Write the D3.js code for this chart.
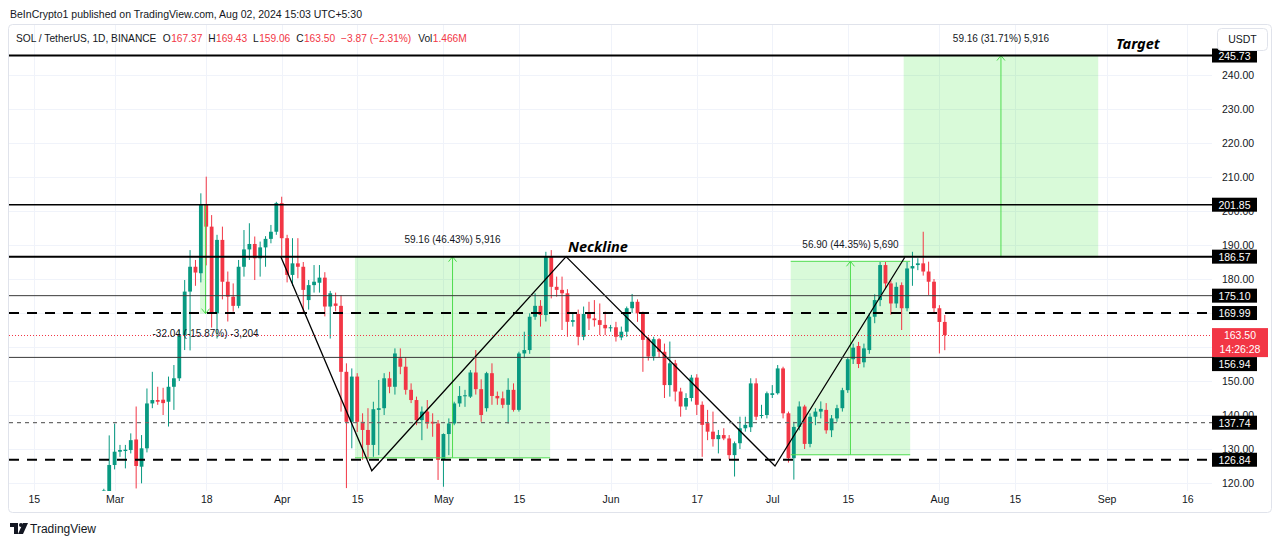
<!DOCTYPE html>
<html><head><meta charset="utf-8">
<script src="https://cdn.jsdelivr.net/npm/d3@7"></script>
<style>body{margin:0;background:#fff;} svg{display:block;font-family:"Liberation Sans",sans-serif;}</style>
</head><body><svg id="c" width="1280" height="544"></svg>
<script>
// ---------- DATA ----------
const dates = ["2024-02-28","2024-02-29",
"2024-03-01","2024-03-02","2024-03-03","2024-03-04","2024-03-05","2024-03-06","2024-03-07","2024-03-08","2024-03-09","2024-03-10",
"2024-03-11","2024-03-12","2024-03-13","2024-03-14","2024-03-15","2024-03-16","2024-03-17","2024-03-18","2024-03-19","2024-03-20",
"2024-03-21","2024-03-22","2024-03-23","2024-03-24","2024-03-25","2024-03-26","2024-03-27","2024-03-28","2024-03-29","2024-03-30","2024-03-31",
"2024-04-01","2024-04-02","2024-04-03","2024-04-04","2024-04-05","2024-04-06","2024-04-07","2024-04-08","2024-04-09","2024-04-10",
"2024-04-11","2024-04-12","2024-04-13","2024-04-14","2024-04-15","2024-04-16","2024-04-17","2024-04-18","2024-04-19","2024-04-20",
"2024-04-21","2024-04-22","2024-04-23","2024-04-24","2024-04-25","2024-04-26","2024-04-27","2024-04-28","2024-04-29","2024-04-30",
"2024-05-01","2024-05-02","2024-05-03","2024-05-04","2024-05-05","2024-05-06","2024-05-07","2024-05-08","2024-05-09","2024-05-10",
"2024-05-11","2024-05-12","2024-05-13","2024-05-14","2024-05-15","2024-05-16","2024-05-17","2024-05-18","2024-05-19","2024-05-20",
"2024-05-21","2024-05-22","2024-05-23","2024-05-24","2024-05-25","2024-05-26","2024-05-27","2024-05-28","2024-05-29","2024-05-30","2024-05-31",
"2024-06-01","2024-06-02","2024-06-03","2024-06-04","2024-06-05","2024-06-06","2024-06-07","2024-06-08","2024-06-09","2024-06-10",
"2024-06-11","2024-06-12","2024-06-13","2024-06-14","2024-06-15","2024-06-16","2024-06-17","2024-06-18","2024-06-19","2024-06-20",
"2024-06-21","2024-06-22","2024-06-23","2024-06-24","2024-06-25","2024-06-26","2024-06-27","2024-06-28","2024-06-29","2024-06-30",
"2024-07-01","2024-07-02","2024-07-03","2024-07-04","2024-07-05","2024-07-06","2024-07-07","2024-07-08","2024-07-09","2024-07-10",
"2024-07-11","2024-07-12","2024-07-13","2024-07-14","2024-07-15","2024-07-16","2024-07-17","2024-07-18","2024-07-19","2024-07-20",
"2024-07-21","2024-07-22","2024-07-23","2024-07-24","2024-07-25","2024-07-26","2024-07-27","2024-07-28","2024-07-29","2024-07-30","2024-07-31",
"2024-08-01","2024-08-02"];

const open = [106,114,
125.3,129.2,129.4,129.7,132.8,124.8,130.2,143.4,144.4,144.5,
143.9,148.3,150.8,163.5,176.3,183.6,181.7,201.8,195.4,169.9,
191.5,179.2,174.8,172.1,183.6,188.7,190.3,186.1,189.3,191.8,193.9,
202.3,192,181.2,184.6,183.6,173.8,178.2,178.9,180.4,171.9,
172.8,172.1,152.7,138,151.3,138,135.6,131.2,141.5,142,
150.8,148.3,156.7,154.2,147.4,144.4,138.5,141,138,137.5,
126.8,134.4,137.5,143.4,145.6,145.4,152.5,147.6,142,152.3,
145.6,144.9,143,147.4,141.5,158.1,159.1,168.9,172.1,169.4,
186.6,177.7,176.8,175.8,167.4,169.7,163,169.7,168.4,167.9,166.5,
165.5,165.8,162.8,164.5,171.4,173.3,169.9,162.5,157.2,162.3,
158.6,148.8,155.2,146.9,142.5,145,151,143,137.6,135.1,
132.9,134.1,133.1,128.2,131.7,136.1,136.4,149.3,139.7,140,
145.9,146.4,153.7,140.5,127.3,136.5,142.5,131.5,139.5,141,
141.5,135.5,139,142,147.3,156.4,160.3,155.5,159.1,168.9,
173.8,184.1,178.7,172.8,178.2,171.4,183.1,184.1,184.6,182.2,179.2,
171.4,167.37];

const high = [118.3,134,
137.5,131.2,131.2,134.6,142.5,134.1,147.8,152.7,148.3,148,
151.3,154.7,165,179.7,188.5,185.6,205.2,210.1,198.8,193,
195.4,182.2,178.7,185.6,194.4,196.4,192.5,191,192.6,195.9,202.7,
204.2,193,192,192,185,179.7,184.1,184.1,182,176.5,
176,175.3,155.2,153.7,152.3,140.5,142,143.9,150.3,152.3,
152.7,159.6,159.6,157,149.3,145.4,142.5,144.4,140.5,138.5,
134.6,139,143.9,148.5,147.4,153.2,159.1,150.5,152.7,155.2,
146.9,146.9,150.8,149.3,158.6,164.5,169.9,175.8,173.8,188,
188.5,180.7,180.7,177,170,171,171.9,173.3,173.8,172.8,170.4,
166.5,167.4,166,171.9,175.6,174,170.4,163,163,162.6,
161,161.6,156.2,148,146.4,151.8,152,144,141.5,141,
135.6,136.1,134.1,132.2,139.5,139.5,150.8,150.8,143,146.9,
148.8,154.7,154.2,141,138,144,143,140.5,142,144,
143.5,140,143,148,157,161,161.5,161,170,175.5,
185,185,179.5,179,179,185,188,186.1,193.9,185.1,180,
172.3,169.43];

const low = [104,112,
124,127.7,124.3,128.7,118.4,119.9,129,142,143,140,
136.6,141.5,150,159.1,159,178,179,184,165.7,162.5,
174,167.5,170.4,171.4,180.7,185.6,179.7,180.7,183.6,190.5,193,
186.6,179,178,180.2,170,171,176,176,169,162.5,
170.5,141,118.5,130.2,135,126.8,127,127.7,128.2,140,
146.4,146,152,146,143.5,137,132.6,136,133.6,120.9,
118.9,128.2,137,142.4,142.4,145,146,138,141,143,
143,142,137.5,141,141,156.7,158,168,166,167.5,
174.3,174.8,165,163,166,160.5,162,165,166,163.5,163.5,
164.5,161.6,162,163,170,167.4,152.7,156,156,157,
145,145.4,144,139.5,141.5,144,140,127.7,132.6,130.7,
128.7,132.6,127,121.9,130,135.1,135,138.5,139,139,
145,146,139,126,121,135.5,130,130.5,137,139,
134.5,133.5,138,141,146.5,155,153.8,154,158,167,
172,177,169.5,171.5,165,170.5,178,182.6,181,175.3,170,
158.1,159.06];

const close = [117.8,125.3,
129.2,129.7,129.8,132.6,125,130.2,143.4,144.4,143.9,143.5,
148.3,150.8,163.5,176.3,183.6,181.9,201.8,195.4,169.9,191.5,
179.2,174.8,172.1,183.6,188.7,190.3,186.1,189.3,191.8,193.9,202.3,
192,181.2,184.6,183.6,176.8,178.2,179.2,180.4,171.9,175.8,
172.1,152.7,138,151.3,138,135.6,131.2,141.7,142,150.8,
148.3,158.1,154.2,147.4,144.4,138.5,141,137.5,137.5,126.8,
134.4,137.5,143.4,145.6,145.8,152.5,147.6,140,152.3,145.6,
144.9,143,147.4,141.5,158.1,159.1,168.9,172.1,169.4,186.6,
177.7,176.8,175.8,167.4,167.9,163,169.7,168.4,167.9,166.5,165.5,
165.8,163,164.5,171.4,173.3,169.9,162.1,157.2,162.3,158.6,
148.8,155.2,146.9,142.5,145,151,143,137.1,135.1,132.9,
134.1,133.1,128.2,131.7,136.1,137.1,149.3,139.5,140,146.4,
146.4,153.7,140.5,127.3,136.5,142.5,131.5,139.5,141,141.8,
135.5,139,142,147.3,156.4,159.8,155,159.6,168.9,173.8,
184.1,178.7,172.8,177.7,171.4,183.1,183.8,184.6,182.2,179.2,171.4,
167.37,163.5];

const priceTicks = [120,130,140,150,180,190,200,210,220,230,240];
const timeTickDates = ["2024-02-15","2024-03-01","2024-03-18","2024-04-01","2024-04-15","2024-05-01","2024-05-15","2024-06-01","2024-06-17","2024-07-01","2024-07-15","2024-08-01","2024-08-15","2024-09-01","2024-09-16"];
const timeTickLabels = ["15","Mar","18","Apr","15","May","15","Jun","17","Jul","15","Aug","15","Sep","16"];
const gridPrices = [120,130,140,150,160,170,180,190,200,210,220,230,240];

const levelPrices = [245.73, 201.85, 186.57, 175.10, 169.99, 156.94, 137.74, 126.84];
const levelKinds  = ["thick","mid","thick","thin","dash","thin","dot","dash"];
const lastPrice = 163.50;
const lastTimer = "14:26:28";

// price-range measurement boxes
const rangeStart = ["2024-04-14T14:00","2024-07-04T10:00","2024-07-25T09:00","2024-03-16T20:00"];
const rangeEnd   = ["2024-05-20T19:00","2024-07-26T14:00","2024-08-30T11:00","2024-03-17T21:00"];
const rangeFrom  = [127.41, 128.30, 186.57, 201.85];
const rangeTo    = [186.57, 185.20, 245.73, 169.81];
const rangeLabel = ["59.16 (46.43%) 5,916","56.90 (44.35%) 5,690","59.16 (31.71%) 5,916","-32.04 (-15.87%) -3,204"];

// zig-zag pattern line
const zigDates  = ["2024-03-31T20:00","2024-04-17T17:00","2024-05-23T18:00","2024-07-01T12:00","2024-07-25T14:00"];
const zigPrices = [186.57, 123.6, 186.57, 125.0, 186.4];

// ---------- SETUP ----------
const svg = d3.select("#c");
const parse = s => new Date(s.length > 10 ? s + ":00Z" : s + "T00:00:00Z");
const x = d3.scaleUtc().domain([parse("2024-03-01"), parse("2024-08-01")]).range([114.6, 939.4]);
const y = d3.scaleLinear().domain([120, 240]).range([483, 75]);
const P = {l: 9, r: 1212, t: 25, b: 491};
const UP = "#089981", DN = "#f23645", INK = "#131722";
const FONT = "Liberation Sans, sans-serif";

svg.append("rect").attr("width",1280).attr("height",544).attr("fill","#fff");
svg.append("defs").append("clipPath").attr("id","clip")
  .append("rect").attr("x",P.l).attr("y",P.t).attr("width",P.r-P.l).attr("height",P.b-P.t);

svg.append("rect").attr("x",8.5).attr("y",24.5).attr("width",1263).attr("height",488).attr("rx",4)
  .attr("fill","none").attr("stroke","#e0e3eb");

const plot = svg.append("g").attr("clip-path","url(#clip)");

plot.selectAll(".vg").data(timeTickDates).join("line")
  .attr("x1",d=>Math.round(x(parse(d)))+0.5).attr("x2",d=>Math.round(x(parse(d)))+0.5)
  .attr("y1",P.t).attr("y2",P.b).attr("stroke","#f0f3fa");
plot.selectAll(".hg").data(gridPrices).join("line")
  .attr("x1",P.l).attr("x2",P.r).attr("y1",d=>Math.round(y(d))+0.5).attr("y2",d=>Math.round(y(d))+0.5)
  .attr("stroke","#f0f3fa");

rangeStart.forEach((s,i)=>{
  const x0 = x(parse(s)), x1 = x(parse(rangeEnd[i]));
  const ya = y(rangeFrom[i]), yb = y(rangeTo[i]);
  plot.append("rect").attr("x",x0).attr("width",x1-x0)
    .attr("y",Math.min(ya,yb)).attr("height",Math.abs(ya-yb))
    .attr("fill","rgba(0,220,0,0.15)");
});

const bars = dates.map((d,i)=>({t:parse(d),o:open[i],h:high[i],l:low[i],c:close[i]}));
const cg = plot.append("g");
bars.forEach(b=>{
  const cx = x(b.t), col = b.c >= b.o ? UP : DN;
  cg.append("line").attr("x1",cx).attr("x2",cx).attr("y1",y(b.h)).attr("y2",y(b.l))
    .attr("stroke",col).attr("stroke-width",1);
  const top = y(Math.max(b.o,b.c)), bot = y(Math.min(b.o,b.c));
  cg.append("rect").attr("x",cx-1.9).attr("width",3.8).attr("y",top).attr("height",Math.max(1,bot-top))
    .attr("fill",col);
});

rangeStart.forEach((s,i)=>{
  const x0 = x(parse(s)), x1 = x(parse(rangeEnd[i])), xm = (x0+x1)/2;
  const ya = y(rangeFrom[i]), yb = y(rangeTo[i]);
  const g = plot.append("g").attr("stroke","#4fdc4f").attr("fill","none").attr("stroke-width",1);
  if (i !== 3) {
    g.append("line").attr("x1",x0).attr("x2",x1).attr("y1",ya).attr("y2",ya);
    g.append("line").attr("x1",x0).attr("x2",x1).attr("y1",yb).attr("y2",yb);
  }
  const ax = i===3 ? x1 : xm;
  g.append("line").attr("x1",ax).attr("x2",ax).attr("y1",ya).attr("y2",yb);
  const dir = yb < ya ? 1 : -1;
  g.append("path").attr("d",`M${ax-4},${yb+dir*5}L${ax},${yb}L${ax+4},${yb+dir*5}`);
});

const styleOf = {
  thick:{w:2,c:"#000",da:null},
  mid:{w:1.6,c:"#000",da:null},
  thin:{w:1,c:"#3a3a3a",da:null},
  dash:{w:2,c:"#000",da:"10,8"},
  dot:{w:1.3,c:"#6b6b6b",da:"4,4"}
};
levelPrices.forEach((p,i)=>{
  const st = styleOf[levelKinds[i]];
  svg.append("line").attr("x1",P.l).attr("x2",1214).attr("y1",y(p)).attr("y2",y(p))
    .attr("stroke",st.c).attr("stroke-width",st.w).attr("stroke-dasharray",st.da);
});
svg.append("line").attr("x1",P.l).attr("x2",1214).attr("y1",Math.round(y(lastPrice))+0.5).attr("y2",Math.round(y(lastPrice))+0.5)
  .attr("stroke",DN).attr("stroke-width",1).attr("stroke-dasharray","1,2");

const zig = d3.line().x(d=>x(parse(d[0]))).y(d=>y(d[1]));
plot.append("path").attr("d",zig(zigDates.map((d,i)=>[d,zigPrices[i]])))
  .attr("fill","none").attr("stroke","#000").attr("stroke-width",1.3);

rangeStart.forEach((s,i)=>{
  const x0 = x(parse(s)), x1 = x(parse(rangeEnd[i])), xm = i===3 ? x1 : (x0+x1)/2;
  const ya = y(rangeFrom[i]), yb = y(rangeTo[i]);
  const ly = i===3 ? Math.max(ya,yb)+20 : Math.min(ya,yb)-17;
  svg.append("text").attr("x",xm).attr("y",ly).attr("dy","0.35em").attr("text-anchor","middle")
    .attr("font-size",10).attr("fill",INK).text(rangeLabel[i]);
});

svg.append("text").attr("x",568).attr("y",252).attr("font-size",14.5).attr("font-weight","bold")
  .attr("font-style","italic").attr("font-family","Noto Sans, sans-serif").attr("fill","#000").text("Neckline");
svg.append("text").attr("x",1116).attr("y",49).attr("font-size",14.5).attr("font-weight","bold")
  .attr("font-style","italic").attr("font-family","Noto Sans, sans-serif").attr("fill","#000").text("Target");

// price axis
const yAxis = d3.axisRight(y).tickValues(priceTicks).tickSize(0).tickPadding(7).tickFormat(d3.format(".2f"));
const yag = svg.append("g").attr("transform","translate(1215,0)").call(yAxis);
yag.select(".domain").remove();
yag.selectAll("text").attr("font-size",10.5).attr("fill",INK).attr("font-family",FONT);

// time axis
const xAxis = d3.axisBottom(x).tickValues(timeTickDates.map(parse)).tickSize(0).tickPadding(5)
  .tickFormat((d,i)=>timeTickLabels[i]);
const xag = svg.append("g").attr("transform",`translate(0,${P.b})`).call(xAxis);
xag.select(".domain").remove();
xag.selectAll("text").attr("font-size",10.5).attr("fill",INK).attr("font-family",FONT);

// last price box
{
  const cy = y(lastPrice);
  svg.append("rect").attr("x",1212).attr("y",cy-7).attr("width",56).attr("height",29).attr("fill",DN);
  svg.append("text").attr("x",1240).attr("y",cy+0.5).attr("dy","0.36em").attr("text-anchor","middle")
    .attr("font-size",10.5).attr("fill","#fff").text(d3.format(".2f")(lastPrice));
  svg.append("text").attr("x",1240).attr("y",cy+14.5).attr("dy","0.36em").attr("text-anchor","middle")
    .attr("font-size",10.5).attr("fill","#fff").text(lastTimer);
}
// level boxes on price axis (156.94 pushed below the live-price box as in the original)
levelPrices.forEach(p=>{
  let cy = y(p);
  if (p === 156.94) cy = y(lastPrice) + 29;
  svg.append("rect").attr("x",1212).attr("y",cy-7).attr("width",45).attr("height",14).attr("fill","#000");
  svg.append("text").attr("x",1234.5).attr("y",cy+0.5).attr("dy","0.36em").attr("text-anchor","middle")
    .attr("font-size",10.5).attr("fill","#fff").text(d3.format(".2f")(p));
});
// USDT box
svg.append("rect").attr("x",1217.5).attr("y",28.5).attr("width",50).attr("height",22).attr("rx",4)
  .attr("fill","#fff").attr("stroke","#e0e3eb");
svg.append("text").attr("x",1242.5).attr("y",39.5).attr("dy","0.36em").attr("text-anchor","middle")
  .attr("font-size",10.5).attr("fill",INK).text("USDT");

// header
svg.append("text").attr("x",10).attr("y",18).attr("font-size",11.5).attr("fill",INK)
  .attr("textLength",352).attr("lengthAdjust","spacingAndGlyphs")
  .text("BeInCrypto1 published on TradingView.com, Aug 02, 2024 15:03 UTC+5:30");
// segments: [text, colour, gap before]
const hdr = [
  ["SOL / TetherUS, 1D, BINANCE",INK,0],
  ["O",INK,6],["167.37",DN,0],
  ["H",INK,5.5],["169.43",DN,0],
  ["L",INK,5.5],["159.06",DN,0],
  ["C",INK,5.5],["163.50",DN,0],
  ["\u22123.87 (\u22122.31%)",DN,5.5],
  ["Vol",INK,6.5],["1.466M",DN,0]
];
let hx = 16;
hdr.forEach(h=>{
  hx += h[2];
  const t = svg.append("text").attr("x",hx).attr("y",42).attr("font-size",10.2).attr("fill",h[1]).text(h[0]);
  hx += t.node().getComputedTextLength() + 0.4;
});

// footer logo
const lg = svg.append("g").attr("transform","translate(10,523)").attr("fill","#131722");
lg.append("path").attr("d","M0,0H8V11H4V4H0Z");
lg.append("circle").attr("cx",11).attr("cy",2).attr("r",2);
lg.append("path").attr("d","M13,0H18L13,11H8Z");
svg.append("text").attr("x",30).attr("y",533).attr("font-size",12).attr("fill",INK).text("TradingView");
</script></body></html>
